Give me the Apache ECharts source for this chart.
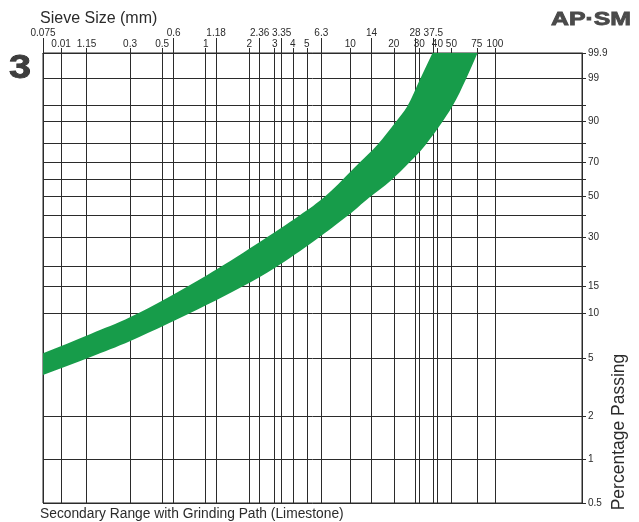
<!DOCTYPE html>
<html>
<head>
<meta charset="utf-8">
<script src="https://cdn.jsdelivr.net/npm/echarts@6/dist/echarts.min.js"></script>
<style>
  html, body { margin: 0; padding: 0; background: #fff; }
  #chart { width: 639px; height: 522px; }
</style>
</head>
<body>
<div id="chart"></div>
<script>
// Sieve sizes (mm) along the top edge, printed in two staggered rows
const sieveUpper = [0.075, 0.6, 1.18, 2.36, 3.35, 6.3, 14, 28, 37.5];
const sieveUpperText = ['0.075', '0.6', '1.18', '2.36', '3.35', '6.3', '14', '28', '37.5'];
const sieveLower = [0.1, 0.15, 0.3, 0.5, 1, 2, 3, 4, 5, 10, 20, 30, 40, 50, 75, 100];
const sieveLowerText = ['0.01', '1.15', '0.3', '0.5', '1', '2', '3', '4', '5', '10', '20', '30', '40', '50', '75', '100'];

// Percentage passing rulings (Rosin-Rammler ordinate) and the ones carrying a label
const passingLines = [0.5, 1, 2, 5, 10, 15, 20, 30, 40, 50, 60, 70, 80, 90, 95, 99, 99.9];
const passingTicks = [0.5, 1, 2, 5, 10, 15, 30, 50, 70, 90, 99, 99.9];
const passingText = ['0.5', '1', '2', '5', '10', '15', '30', '50', '70', '90', '99', '99.9'];

// Grading band: finer limit (upper edge) and coarser limit (lower edge)
const finerSize    = [0.075, 0.16, 0.304, 1.02, 4.40, 6.74, 11.5, 15.4, 20.6, 24.8, 30.3, 37.0];
const finerPassing = [5.4, 7.3, 9.5, 17.7, 39.6, 50.1, 69.3, 79.5, 89.8, 94.7, 98.9, 99.9];
const coarserSize    = [0.075, 0.16, 0.304, 1.02, 3.04, 9.53, 13.4, 19.0, 25.4, 33.2, 50.8, 62.9, 75.8];
const coarserPassing = [3.84, 5.1, 6.57, 11.4, 19.8, 39.6, 49.0, 58.9, 69.3, 79.5, 94.7, 98.9, 99.9];

const sizeMin = 0.075, sizeMax = 400;
const passMin = 0.5, passMax = 99.9;

const lg = v => Math.log10(v);
const rr = p => Math.log(-Math.log(1 - p / 100));

const FONT = '"Liberation Sans", Arial, Helvetica, sans-serif';
const INK = '#2b2b2b';
const BAND = '#179c4a';

function labelFor(values, texts, transform) {
  return function (v) {
    let best = 0, dist = Infinity;
    values.forEach((x, i) => {
      const d = Math.abs(transform(x) - v);
      if (d < dist) { dist = d; best = i; }
    });
    return texts[best];
  };
}

// Centripetal Catmull-Rom spline through screen points, as cubic Bezier segments
function spline(pts) {
  let d = '';
  const n = pts.length;
  const dist = (a, b) => Math.sqrt(Math.hypot(b[0] - a[0], b[1] - a[1])) || 1e-6;
  for (let i = 0; i < n - 1; i++) {
    const p1 = pts[i], p2 = pts[i + 1];
    const p0 = i > 0 ? pts[i - 1] : [2 * p1[0] - p2[0], 2 * p1[1] - p2[1]];
    const p3 = i < n - 2 ? pts[i + 2] : [2 * p2[0] - p1[0], 2 * p2[1] - p1[1]];
    const d1 = dist(p0, p1), d2 = dist(p1, p2), d3 = dist(p2, p3);
    const t1 = [0, 1].map(k => ((p1[k] - p0[k]) / d1 - (p2[k] - p0[k]) / (d1 + d2) + (p2[k] - p1[k]) / d2) * d2);
    const t2 = [0, 1].map(k => ((p2[k] - p1[k]) / d2 - (p3[k] - p1[k]) / (d2 + d3) + (p3[k] - p2[k]) / d3) * d2);
    const c1 = [p1[0] + t1[0] / 3, p1[1] + t1[1] / 3];
    const c2 = [p2[0] - t2[0] / 3, p2[1] - t2[1] / 3];
    d += ' C' + c1[0] + ',' + c1[1] + ' ' + c2[0] + ',' + c2[1] + ' ' + p2[0] + ',' + p2[1];
  }
  return d;
}

const ruling = { color: INK, width: 1 };

const chart = echarts.init(document.getElementById('chart'), null, { renderer: 'canvas' });

chart.setOption({
  animation: false,
  backgroundColor: '#fff',
  grid: {
    left: 43, right: 57, top: 53, bottom: 19,
    show: true, borderColor: INK, borderWidth: 1, backgroundColor: 'transparent'
  },
  xAxis: [
    {
      type: 'value', position: 'top', min: lg(sizeMin), max: lg(sizeMax),
      axisLine: { show: true, onZero: false, lineStyle: ruling },
      axisTick: { show: true, customValues: sieveUpper.map(lg), length: 15, lineStyle: ruling },
      axisLabel: {
        customValues: sieveUpper.map(lg), formatter: labelFor(sieveUpper, sieveUpperText, lg),
        margin: 15, fontSize: 10, color: INK, fontFamily: FONT
      },
      splitLine: { show: true, lineStyle: ruling }
    },
    {
      type: 'value', position: 'top', min: lg(sizeMin), max: lg(sizeMax),
      axisLine: { show: false, onZero: false },
      axisTick: { show: true, customValues: sieveLower.map(lg), length: 5, lineStyle: ruling },
      axisLabel: {
        customValues: sieveLower.map(lg), formatter: labelFor(sieveLower, sieveLowerText, lg),
        margin: 4, fontSize: 10, color: INK, fontFamily: FONT
      },
      splitLine: { show: true, lineStyle: ruling }
    }
  ],
  yAxis: {
    type: 'value', position: 'right', min: rr(passMin), max: rr(passMax),
    axisLine: { show: true, onZero: false, lineStyle: ruling },
    axisTick: { show: true, customValues: passingLines.map(rr), length: 4, lineStyle: ruling },
    axisLabel: {
      customValues: passingTicks.map(rr), formatter: labelFor(passingTicks, passingText, rr),
      margin: 6, fontSize: 10, color: INK, fontFamily: FONT
    },
    splitLine: { show: true, lineStyle: ruling }
  },
  series: [{
    type: 'custom',
    coordinateSystem: 'cartesian2d',
    xAxisIndex: 0,
    yAxisIndex: 0,
    clip: true,
    silent: true,
    z: 1,
    data: [[lg(finerSize[0]), rr(finerPassing[0])]],
    renderItem: function (params, api) {
      const upper = finerSize.map((s, i) => api.coord([lg(s), rr(finerPassing[i])]));
      const lower = coarserSize.map((s, i) => api.coord([lg(s), rr(coarserPassing[i])])).reverse();
      let d = 'M' + upper[0][0] + ',' + upper[0][1];
      d += spline(upper);
      d += ' L' + lower[0][0] + ',' + lower[0][1];
      d += spline(lower);
      d += ' Z';
      return { type: 'path', shape: { pathData: d }, style: { fill: BAND, stroke: null } };
    }
  }],
  graphic: [
    {
      type: 'text', x: 40, y: 19,
      style: { text: 'Sieve Size (mm)', font: '16px ' + FONT, fill: INK, verticalAlign: 'middle' }
    },
    {
      type: 'text', x: 551, y: 20, scaleX: 1.38,
      style: { text: 'AP·SM', font: 'bold 18px ' + FONT, fill: '#4a4a4a', verticalAlign: 'middle', stroke: '#4a4a4a', lineWidth: 0.8 }
    },
    {
      type: 'text', x: 9, y: 69, scaleX: 1.2,
      style: { text: '3', font: 'bold 33px ' + FONT, fill: '#3d3d3d', verticalAlign: 'middle', stroke: '#222', lineWidth: 0.8 }
    },
    {
      type: 'text', x: 40, y: 514,
      style: { text: 'Secondary Range with Grinding Path (Limestone)', font: '13.8px ' + FONT, fill: INK, verticalAlign: 'middle' }
    },
    {
      type: 'text', x: 619, y: 432, rotation: Math.PI / 2,
      style: { text: 'Percentage Passing', font: '17.5px ' + FONT, fill: INK, align: 'center', verticalAlign: 'middle' }
    }
  ]
});
</script>
</body>
</html>
